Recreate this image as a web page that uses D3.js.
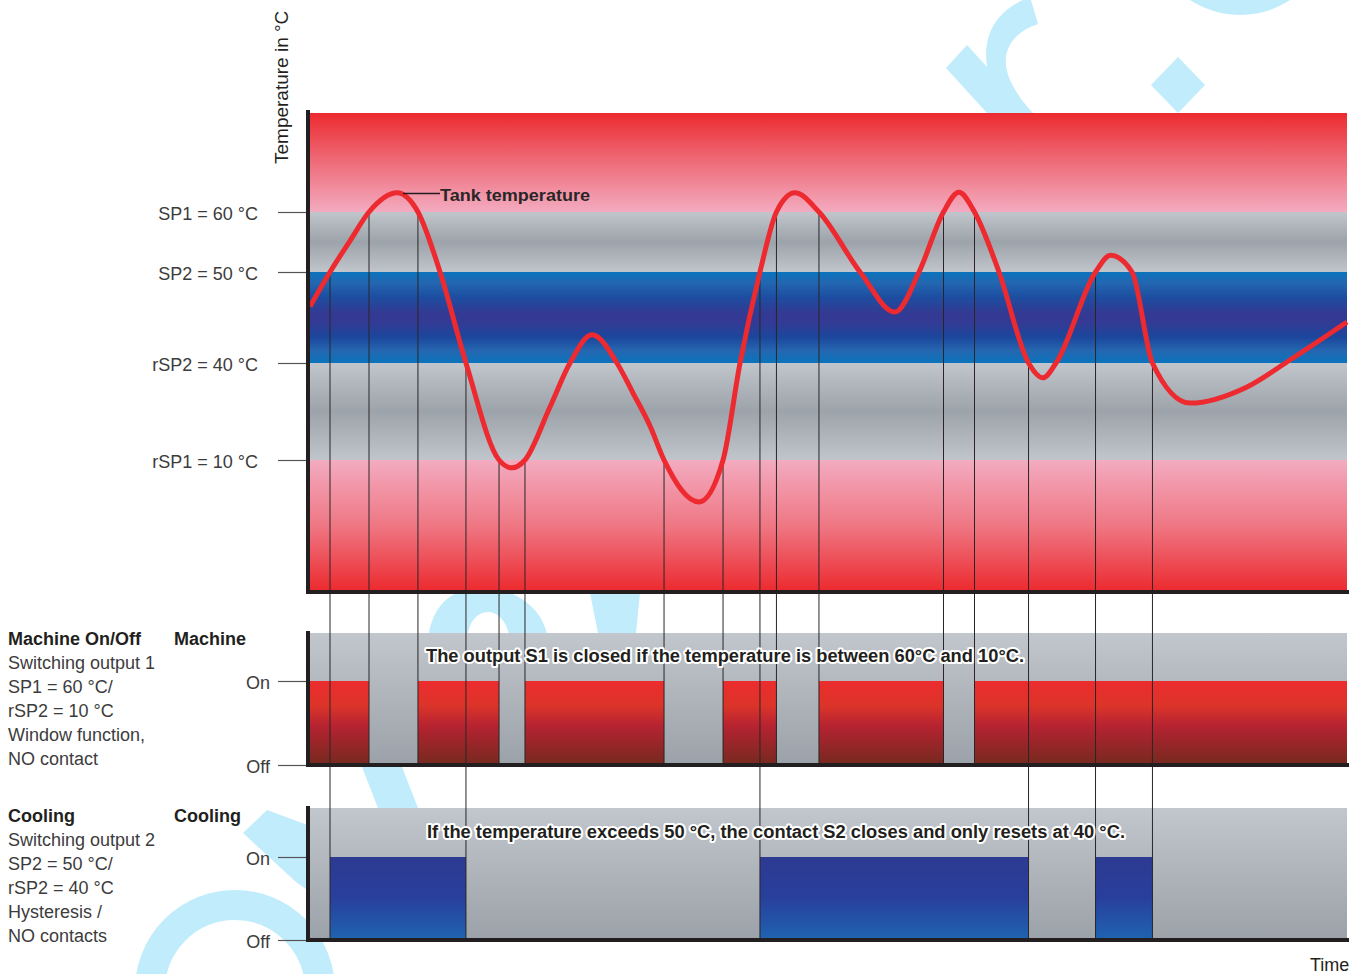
<!DOCTYPE html>
<html>
<head>
<meta charset="utf-8">
<script src="https://cdn.jsdelivr.net/npm/d3@7"></script>
<style>
  html, body { margin: 0; padding: 0; background: #ffffff; }
  svg { display: block; }
  text { font-family: "Liberation Sans", Arial, Helvetica, sans-serif; }
</style>
</head>
<body>
<svg id="chart" width="1367" height="974"></svg>
<script>
// ---------------- DATA ----------------
// Tank temperature curve (time in arbitrary units 0..100, temperature in °C)
const curveTime = [0, 1.93, 3.86, 5.69, 8.39, 10.41, 12.54, 15.04, 18.23, 19.48, 20.73, 23.14, 25.07, 27.19, 29.6,
                   31.15, 32.79, 34.14, 37.51, 39.83, 41.47, 43.39, 44.98, 46.77, 49.08, 53.04, 56.41, 58.73, 61.09, 62.58, 64.08,
                   66.44, 69.29, 70.68, 71.94, 75.75, 77.19, 79.27, 81.24, 84.86, 90.36, 94.46, 100];
const curveTemp = [46.2, 50, 55.2, 60, 63.1, 60, 50, 40, 10, 7.6, 10, 26.4, 40, 43.1, 40,
                   30.7, 20.5, 10, -2.8, 10, 40, 50, 60, 63.1, 60, 50, 45.6, 50, 60, 63.2, 60,
                   50, 40, 35.4, 40, 50, 52.8, 50, 40, 27.6, 32.6, 40.3, 44.5];

// Threshold levels
const thresholdLabels = ["SP1 = 60 °C", "SP2 = 50 °C", "rSP2 = 40 °C", "rSP1 = 10 °C"];
const thresholdValues = [60, 50, 40, 10];

// Switching instants (time), threshold crossed and output concerned (1 = machine, 2 = cooling)
const switchTimes  = [1.93, 5.69, 10.41, 15.04, 18.23, 20.73, 34.14, 39.83, 43.39, 44.98, 49.08, 61.09, 64.08, 69.29, 75.75, 81.24];
const switchTemps  = [50, 60, 60, 40, 10, 10, 10, 10, 50, 60, 60, 60, 60, 40, 50, 40];
const switchOutput = [2, 1, 1, 2, 1, 1, 1, 1, 2, 1, 1, 1, 1, 2, 2, 2];

// Output states (on intervals)
const machineOnStart = [0, 10.41, 20.73, 39.83, 49.08, 64.08];
const machineOnEnd   = [5.69, 18.23, 34.14, 44.98, 61.09, 100];
const coolingOnStart = [1.93, 43.39, 75.75];
const coolingOnEnd   = [15.04, 69.29, 81.24];

const stateLabels = ["Off", "On"];
const machineText = ["Switching output 1", "SP1 = 60 °C/", "rSP2 = 10 °C", "Window function,", "NO contact"];
const coolingText = ["Switching output 2", "SP2 = 50 °C/", "rSP2 = 40 °C", "Hysteresis /", "NO contacts"];

// ---------------- LAYOUT ----------------
const svg = d3.select("#chart");
const X0 = 310, X1 = 1347;
const mach = {y0: 633, y1: 763, on: 681, off: 765};
const cool = {y0: 808, y1: 938, on: 857, off: 940};

const x = d3.scaleLinear().domain([0, 100]).range([X0, X1]);
const y = d3.scaleLinear().domain([-30, 10, 40, 50, 60, 76]).range([591, 460, 363, 272, 212, 113]);
const yM = d3.scaleLinear().domain([0, 1]).range([mach.off, mach.on]);
const yC = d3.scaleLinear().domain([0, 1]).range([cool.off, cool.on]);

const defs = svg.append("defs");
function grad(id, yA, yB, stops) {
  const g = defs.append("linearGradient").attr("id", id)
    .attr("gradientUnits", "userSpaceOnUse").attr("x1", 0).attr("x2", 0).attr("y1", yA).attr("y2", yB);
  stops.forEach(s => g.append("stop").attr("offset", s[0]).attr("stop-color", s[1]));
}
grad("gTopRed", y(76), y(60), [[0, "#ec2a2f"], [0.45, "#ee6672"], [1, "#f3abc0"]]);
grad("gGrey1", y(60), y(50), [[0, "#c1c5cc"], [0.5, "#9da3aa"], [1, "#c1c5cc"]]);
grad("gBlue", y(50), y(40), [[0, "#0b74bd"], [0.12, "#2366b0"], [0.28, "#1d4da0"], [0.45, "#333a93"], [0.55, "#343a94"], [0.72, "#1b479d"], [0.86, "#2566af"], [1, "#0a74bd"]]);
grad("gGrey2", y(40), y(10), [[0, "#c1c5cc"], [0.5, "#9da3aa"], [1, "#c1c5cc"]]);
grad("gBotRed", y(10), y(-30), [[0, "#f3abc0"], [0.5, "#ef7784"], [1, "#ec2a2f"]]);
grad("gPanelM", mach.y0, mach.y1, [[0, "#c2c6cd"], [1, "#9ca2a9"]]);
grad("gPanelC", cool.y0, cool.y1, [[0, "#c2c6cd"], [1, "#9ca2a9"]]);
grad("gOnRed", mach.on, mach.y1, [[0, "#ec2c2e"], [0.3, "#dc3429"], [0.55, "#b52331"], [1, "#78291f"]]);
grad("gOnBlue", cool.on, cool.y1, [[0, "#2d3a92"], [0.5, "#283f9c"], [1, "#1f62b0"]]);

// ---------------- WATERMARK ----------------
const wm = svg.append("g").attr("fill", "#c0ecfc");
wm.append("circle").attr("cx", 1240).attr("cy", -76).attr("r", 91);
wm.append("path").attr("d", "M946,68 L967,45 L987,67 C983,40 992,14 1023,0 L1031,0 L1038,24 C1008,34 998,58 1012,84 C1018,96 1026,106 1033,113 L987,113 Z");
wm.append("path").attr("d", "M1151,85 L1178,57 L1205,85 L1178,113 Z");
wm.append("circle").attr("cx", 235).attr("cy", 990).attr("r", 85).attr("fill", "none").attr("stroke", "#c0ecfc").attr("stroke-width", 30);
wm.append("path").attr("d", "M243,833 L267,810 L310,826 L310,892 L296,882 Z");
wm.append("path").attr("d", "M428,640 C432,600 458,585 488,588 C518,590 545,610 548,640 L510,640 C508,622 498,612 488,612 C476,612 468,624 467,640 Z");
wm.append("path").attr("d", "M590,593 L640,593 L636,633 L598,633 Z");
wm.append("path").attr("d", "M362,767 L402,767 L418,808 L378,808 Z");

// ---------------- TOP PANEL ----------------
const bands = [[76, 60, "gTopRed"], [60, 50, "gGrey1"], [50, 40, "gBlue"], [40, 10, "gGrey2"], [10, -30, "gBotRed"]];
svg.append("g").selectAll("rect").data(bands).join("rect")
  .attr("x", x(0)).attr("width", x(100) - x(0))
  .attr("y", d => y(d[0])).attr("height", d => y(d[1]) - y(d[0]))
  .attr("fill", d => `url(#${d[2]})`);

// ---------------- MACHINE PANEL ----------------
svg.append("rect").attr("x", x(0)).attr("width", x(100) - x(0))
  .attr("y", mach.y0).attr("height", mach.y1 - mach.y0).attr("fill", "url(#gPanelM)");
svg.append("g").selectAll("rect").data(d3.range(machineOnStart.length)).join("rect")
  .attr("x", i => x(machineOnStart[i])).attr("width", i => x(machineOnEnd[i]) - x(machineOnStart[i]))
  .attr("y", yM(1)).attr("height", mach.y1 - yM(1)).attr("fill", "url(#gOnRed)");

// ---------------- COOLING PANEL ----------------
svg.append("rect").attr("x", x(0)).attr("width", x(100) - x(0))
  .attr("y", cool.y0).attr("height", cool.y1 - cool.y0).attr("fill", "url(#gPanelC)");
svg.append("g").selectAll("rect").data(d3.range(coolingOnStart.length)).join("rect")
  .attr("x", i => x(coolingOnStart[i])).attr("width", i => x(coolingOnEnd[i]) - x(coolingOnStart[i]))
  .attr("y", yC(1)).attr("height", cool.y1 - yC(1)).attr("fill", "url(#gOnBlue)");

// ---------------- SWITCH LINES ----------------
svg.append("g").selectAll("line").data(d3.range(switchTimes.length)).join("line")
  .attr("x1", i => x(switchTimes[i])).attr("x2", i => x(switchTimes[i]))
  .attr("y1", i => y(switchTemps[i])).attr("y2", i => switchOutput[i] === 1 ? mach.y1 : cool.y1)
  .attr("stroke", "#2a2627").attr("stroke-width", 1);

// ---------------- CURVE ----------------
const line = d3.line().x(i => x(curveTime[i])).y(i => y(curveTemp[i])).curve(d3.curveMonotoneX);
svg.append("path").attr("d", line(d3.range(curveTime.length)))
  .attr("fill", "none").attr("stroke", "#ec2a2f").attr("stroke-width", 5).attr("stroke-linejoin", "round");

// ---------------- AXES ----------------
const dark = "#231f20";
function frame(yTop, yBot) {
  svg.append("rect").attr("x", 306).attr("y", yTop).attr("width", 4).attr("height", yBot - yTop + 4).attr("fill", dark);
  svg.append("rect").attr("x", 306).attr("y", yBot).attr("width", X1 + 2 - 306).attr("height", 4).attr("fill", dark);
}
frame(110, 590);
frame(631, 763);
frame(806, 938);

// threshold ticks & labels via axis
const axisL = d3.axisLeft(y).tickValues(thresholdValues).tickSize(28).tickFormat((d, i) => thresholdLabels[i]).tickPadding(20);
const ag = svg.append("g").attr("transform", "translate(306,0)").call(axisL);
ag.select(".domain").remove();
ag.selectAll("line").attr("stroke", "#555").attr("stroke-width", 1.2);
ag.selectAll("text").attr("font-size", 18).attr("fill", "#3c3c3c").attr("font-family", "Liberation Sans, Arial, sans-serif").attr("dy", "0.4em");

function stateAxis(scale) {
  const a = d3.axisLeft(scale).tickValues([0, 1]).tickSize(28).tickPadding(8).tickFormat(d => stateLabels[d]);
  const g = svg.append("g").attr("transform", "translate(306,0)").call(a);
  g.select(".domain").remove();
  g.selectAll("line").attr("stroke", "#555").attr("stroke-width", 1.2);
  g.selectAll("text").attr("font-size", 18).attr("fill", "#3c3c3c").attr("font-family", "Liberation Sans, Arial, sans-serif").attr("dy", "0.4em");
}
stateAxis(yM);
stateAxis(yC);

// ---------------- TEXTS ----------------
svg.append("text").attr("transform", "translate(288,164) rotate(-90)")
  .attr("font-size", 19).attr("fill", dark).text("Temperature in °C");

svg.append("line").attr("x1", 403).attr("x2", 440).attr("y1", 193.5).attr("y2", 193.5).attr("stroke", dark).attr("stroke-width", 1.5);
svg.append("text").attr("x", 440).attr("y", 201).attr("font-size", 17).attr("font-weight", "bold")
  .attr("fill", "#2a2627").attr("textLength", 150).attr("lengthAdjust", "spacingAndGlyphs").text("Tank temperature");

function block(yHead, head1, head2, lines) {
  svg.append("text").attr("x", 8).attr("y", yHead).attr("font-size", 18).attr("font-weight", "bold").attr("fill", dark).text(head1);
  svg.append("text").attr("x", 174).attr("y", yHead).attr("font-size", 18).attr("font-weight", "bold").attr("fill", dark).text(head2);
  svg.append("g").selectAll("text").data(lines).join("text")
    .attr("x", 8).attr("y", (d, i) => yHead + 24 * (i + 1)).attr("font-size", 18).attr("fill", "#3c3c3c").text(d => d);
}
block(645, "Machine On/Off", "Machine", machineText);
block(822, "Cooling", "Cooling", coolingText);

function note(xs, yb, len, str) {
  svg.append("text").attr("x", xs).attr("y", yb).attr("font-size", 18).attr("font-weight", "bold")
    .attr("fill", "#231f20").attr("stroke", "#ffffff").attr("stroke-width", 4).attr("stroke-linejoin", "round")
    .attr("paint-order", "stroke").attr("textLength", len).attr("lengthAdjust", "spacingAndGlyphs").text(str);
}
note(426, 662, 598, "The output S1 is closed if the temperature is between 60°C and 10°C.");
note(427, 838, 698, "If the temperature exceeds 50 °C, the contact S2 closes and only resets at 40 °C.");

svg.append("text").attr("x", 1310).attr("y", 971).attr("font-size", 18).attr("fill", dark).text("Time");
</script>
</body>
</html>
